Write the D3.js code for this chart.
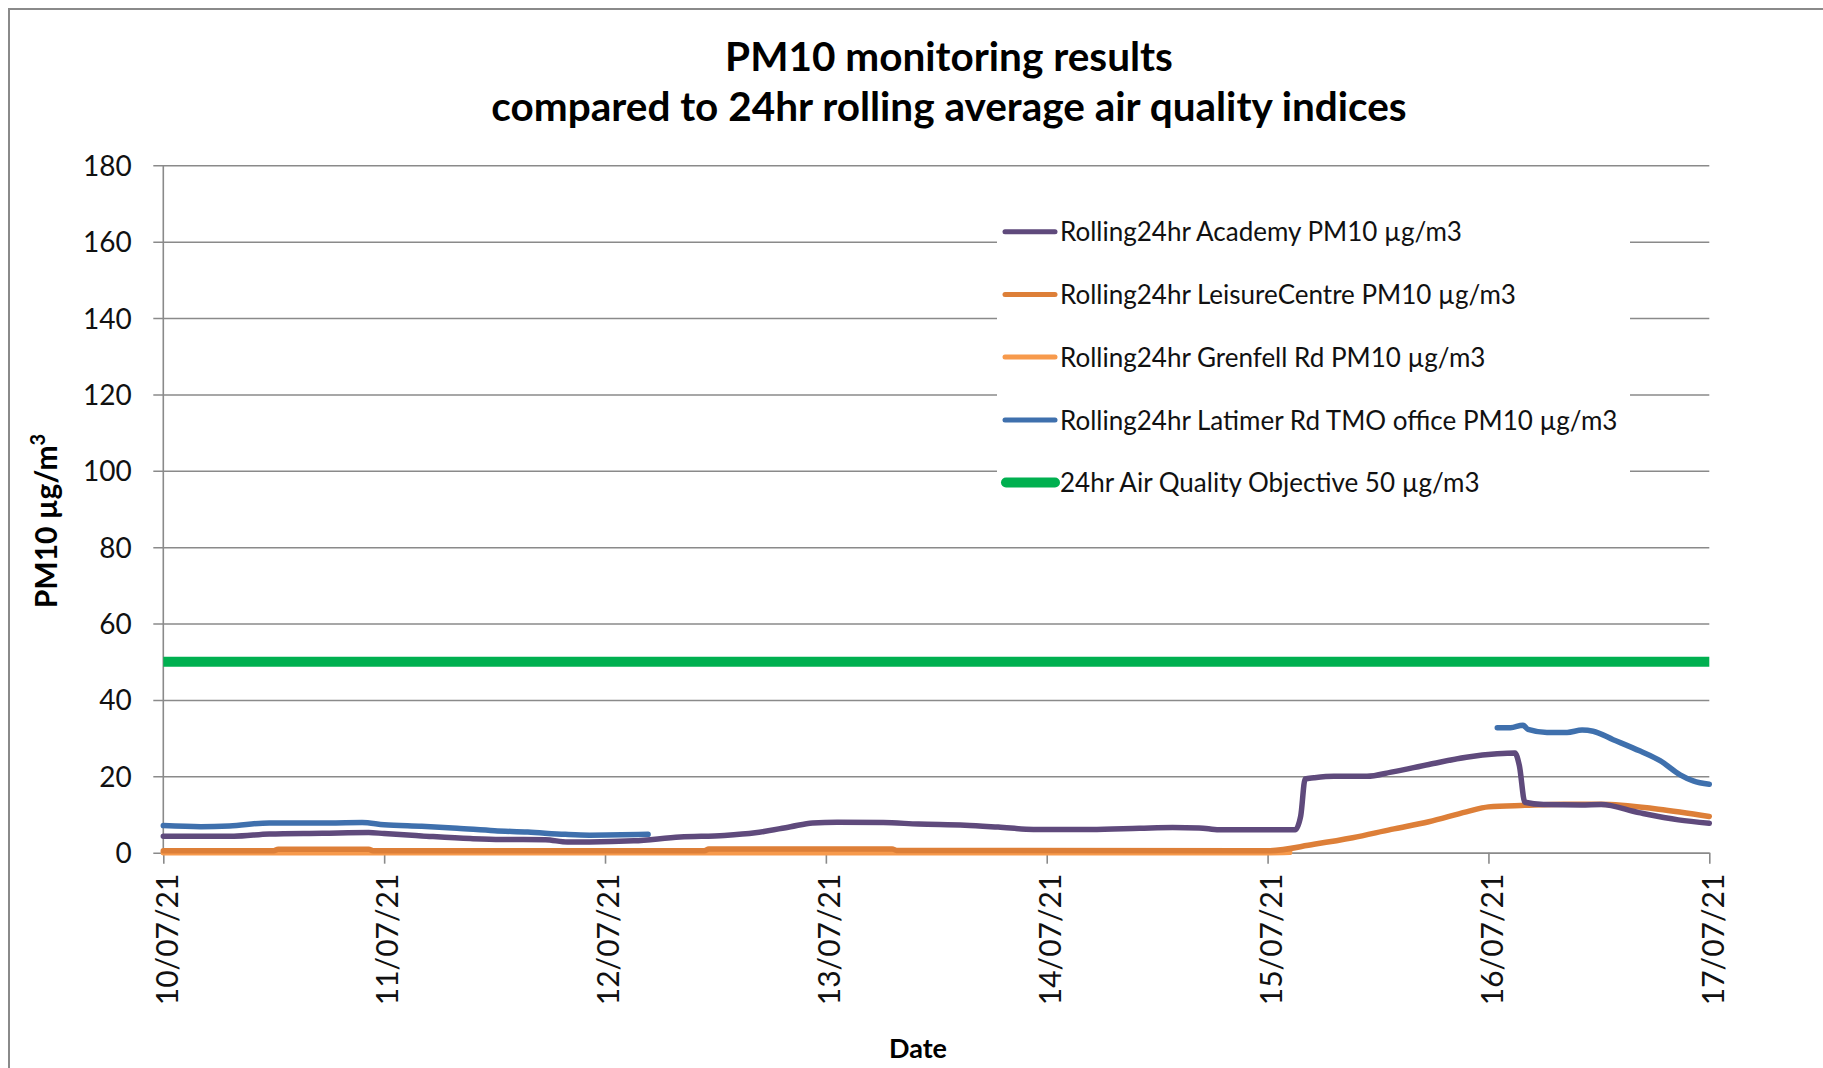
<!DOCTYPE html>
<html>
<head>
<meta charset="utf-8">
<script src="https://cdn.jsdelivr.net/npm/d3@7"></script>
<style>
  html, body { margin: 0; padding: 0; background: #fff; }
  svg { display: block; font-family: Lato, "Open Sans", sans-serif; }
</style>
</head>
<body>
<svg id="chart" width="1823" height="1068"></svg>
<script>
// PM10 24-hour rolling averages, 10–17 July 2021.
// Times are given as days elapsed since 10/07/21 00:00.
const startDate = new Date(2021, 6, 10);
const endDate = new Date(2021, 6, 17);

const titleLines = ["PM10 monitoring results", "compared to 24hr rolling average air quality indices"];
const xTickLabels = ["10/07/21", "11/07/21", "12/07/21", "13/07/21", "14/07/21", "15/07/21", "16/07/21", "17/07/21"];
const yTicks = [0, 20, 40, 60, 80, 100, 120, 140, 160, 180];

const seriesNames = [
  "Rolling24hr Academy PM10 µg/m3",
  "Rolling24hr LeisureCentre PM10 µg/m3",
  "Rolling24hr Grenfell Rd PM10 µg/m3",
  "Rolling24hr Latimer Rd TMO office PM10 µg/m3",
  "24hr Air Quality Objective 50 µg/m3"
];
const seriesColors = ["#5f4a7c", "#dd7f38", "#f79a4c", "#3f70ad", "#00b050"];

const academy = [
  [0.00, 4.3], [0.32, 4.3], [0.48, 4.9], [0.72, 5.1], [0.93, 5.3], [1.00, 5.0],
  [1.17, 4.4], [1.39, 3.7], [1.53, 3.45], [1.73, 3.4], [1.83, 2.8], [1.93, 2.8],
  [2.13, 3.1], [2.34, 4.1], [2.54, 4.5], [2.68, 5.2], [2.84, 6.8], [2.94, 7.8],
  [3.05, 8.0], [3.26, 7.9], [3.42, 7.5], [3.63, 7.2], [3.78, 6.7], [3.94, 6.1],
  [4.20, 6.1], [4.42, 6.4], [4.57, 6.6], [4.69, 6.5], [4.78, 6.0], [5.125, 6.0],
  [5.15, 9.6], [5.17, 19.3], [5.21, 19.6], [5.30, 20.0], [5.45, 20.0], [5.56, 21.1],
  [5.73, 23.1], [5.90, 25.0], [6.04, 25.9], [6.12, 26.1], [6.14, 22.8], [6.165, 13.2],
  [6.25, 12.6], [6.42, 12.5], [6.51, 12.6], [6.68, 10.5], [6.86, 8.6], [7.00, 7.7]
];

const leisureCentre = [
  [0.00, 0.5], [0.50, 0.5], [0.52, 0.9], [0.93, 0.9], [0.95, 0.5], [2.45, 0.5],
  [2.47, 1.0], [3.30, 1.0], [3.32, 0.6], [4.90, 0.5], [5.00, 0.5], [5.21, 2.2],
  [5.385, 3.9], [5.56, 6.1], [5.73, 8.1], [5.90, 10.7], [6.00, 12.0], [6.165, 12.4],
  [6.34, 12.7], [6.51, 12.7], [6.77, 11.4], [7.00, 9.5]
];

const grenfell = [
  [0.00, 0.0], [1.00, 0.0], [2.00, 0.0], [3.00, 0.0], [4.00, 0.0], [5.00, 0.0], [5.10, 0.1]
];

const latimerFirst = [
  [0.00, 7.1], [0.17, 6.8], [0.30, 7.0], [0.48, 7.8], [0.75, 7.8], [0.90, 7.9],
  [1.00, 7.3], [1.17, 6.9], [1.33, 6.4], [1.50, 5.75], [1.65, 5.4], [1.82, 4.8],
  [1.93, 4.6], [2.195, 4.8]
];
const latimerSecond = [
  [6.04, 32.7], [6.10, 32.7], [6.156, 33.4], [6.179, 32.3], [6.265, 31.5], [6.356, 31.5],
  [6.424, 32.1], [6.474, 31.8], [6.565, 29.6], [6.687, 26.6], [6.777, 24.1], [6.868, 20.4],
  [6.927, 18.8], [7.00, 17.9]
];

const objective = [[0.00, 50], [7.00, 50]];

// ---- layout ----
const margin = { left: 163.3, right: 1709.3, top: 165.3, bottom: 852.7 };
const toDate = d => new Date(startDate.getTime() + d * 864e5);

const x = d3.scaleTime().domain([startDate, endDate]).range([margin.left, margin.right]);
const y = d3.scaleLinear().domain([0, 180]).range([margin.bottom, margin.top]);

const svg = d3.select("#chart");
const gray = "#8a8a8a";

// outer chart frame (top and left edges visible)
svg.append("path")
  .attr("d", `M9,1068 L9,9 L1823,9`)
  .attr("fill", "none").attr("stroke", gray).attr("stroke-width", 2);

// title
svg.append("g").selectAll("text").data(titleLines).join("text")
  .attr("x", 949).attr("y", (d, i) => 71 + i * 50)
  .attr("text-anchor", "middle")
  .attr("font-weight", 700).attr("font-size", 40.5).attr("fill", "#000")
  .text(d => d);

// horizontal gridlines + y axis
const yAxis = d3.axisLeft(y).tickValues(yTicks)
  .tickSize(-(margin.right - margin.left)).tickSizeOuter(0).tickPadding(0)
  .tickFormat(d3.format("d"));
const yg = svg.append("g").attr("transform", `translate(${margin.left},0)`).call(yAxis);
yg.select(".domain").remove();
yg.selectAll(".tick line").attr("stroke", gray).attr("stroke-width", 1.6)
  .attr("x1", -10);
yg.selectAll(".tick text")
  .attr("x", -31.6).attr("dy", 10).attr("dominant-baseline", "auto")
  .attr("font-size", 28).attr("font-family", "Lato, sans-serif").attr("fill", "#111");

// vertical axis line
svg.append("line")
  .attr("x1", margin.left).attr("x2", margin.left)
  .attr("y1", margin.top).attr("y2", margin.bottom)
  .attr("stroke", gray).attr("stroke-width", 1.6);

// x axis
const xTicks = d3.timeDay.range(startDate, d3.timeDay.offset(endDate, 1));
const xAxis = d3.axisBottom(x).tickValues(xTicks).tickSize(11).tickSizeOuter(0)
  .tickFormat((d, i) => xTickLabels[i]);
const xg = svg.append("g").attr("transform", `translate(0,${margin.bottom})`).call(xAxis);
xg.select(".domain").attr("stroke", gray).attr("stroke-width", 1.6);
xg.selectAll(".tick line").attr("stroke", gray).attr("stroke-width", 1.6);
xg.selectAll(".tick text")
  .attr("transform", "rotate(-90)")
  .attr("x", -21).attr("y", 13.8).attr("dy", 0)
  .attr("text-anchor", "end")
  .attr("font-size", 30).attr("font-family", "Lato, sans-serif").attr("fill", "#111");

// axis titles
const yTitle = svg.append("text")
  .attr("transform", "translate(57.3,521) rotate(-90)")
  .attr("text-anchor", "middle")
  .attr("font-weight", 700).attr("font-size", 30).attr("fill", "#000");
yTitle.append("tspan").text("PM10 µg/m");
yTitle.append("tspan").attr("dy", -12).attr("font-size", 20).text("3");

svg.append("text")
  .attr("x", 918).attr("y", 1057.7)
  .attr("text-anchor", "middle")
  .attr("font-weight", 700).attr("font-size", 27).attr("fill", "#000")
  .text("Date");

// legend background hides the gridlines behind it
svg.append("rect").attr("x", 997).attr("y", 182).attr("width", 633).attr("height", 328).attr("fill", "#fff");

// data lines
const line = d3.line().x(d => x(toDate(d[0]))).y(d => y(d[1])).curve(d3.curveMonotoneX);
const plotted = [
  { data: academy, color: seriesColors[0], w: 5.5 },
  { data: leisureCentre, color: seriesColors[1], w: 5.5 },
  { data: grenfell, color: seriesColors[2], w: 5.5 },
  { data: latimerFirst, color: seriesColors[3], w: 5.5 },
  { data: latimerSecond, color: seriesColors[3], w: 5.5 },
  { data: objective, color: seriesColors[4], w: 10 }
];
// Grenfell is drawn first so that the LeisureCentre line sits over it
const order = [2, 1, 0, 3, 4, 5];
svg.append("g").selectAll("path").data(order.map(i => plotted[i])).join("path")
  .attr("d", d => line(d.data))
  .attr("fill", "none")
  .attr("stroke", d => d.color)
  .attr("stroke-width", d => d.w)
  .attr("stroke-linejoin", "round")
  .attr("stroke-linecap", d => d.w > 6 ? "butt" : "round");

// legend
const legendRowY = [231.7, 294.5, 357, 420, 482.5];
const lg = svg.append("g").selectAll("g").data(seriesNames).join("g")
  .attr("transform", (d, i) => `translate(0,${legendRowY[i]})`);
lg.append("line")
  .attr("x1", (d, i) => i === 4 ? 1006 : 1005)
  .attr("x2", (d, i) => i === 4 ? 1055 : 1055)
  .attr("stroke", (d, i) => seriesColors[i])
  .attr("stroke-width", (d, i) => i === 4 ? 10 : 5)
  .attr("stroke-linecap", "round");
lg.append("text")
  .attr("x", 1060).attr("y", 9.5)
  .attr("font-size", 26).attr("fill", "#111")
  .text(d => d);
</script>
</body>
</html>
